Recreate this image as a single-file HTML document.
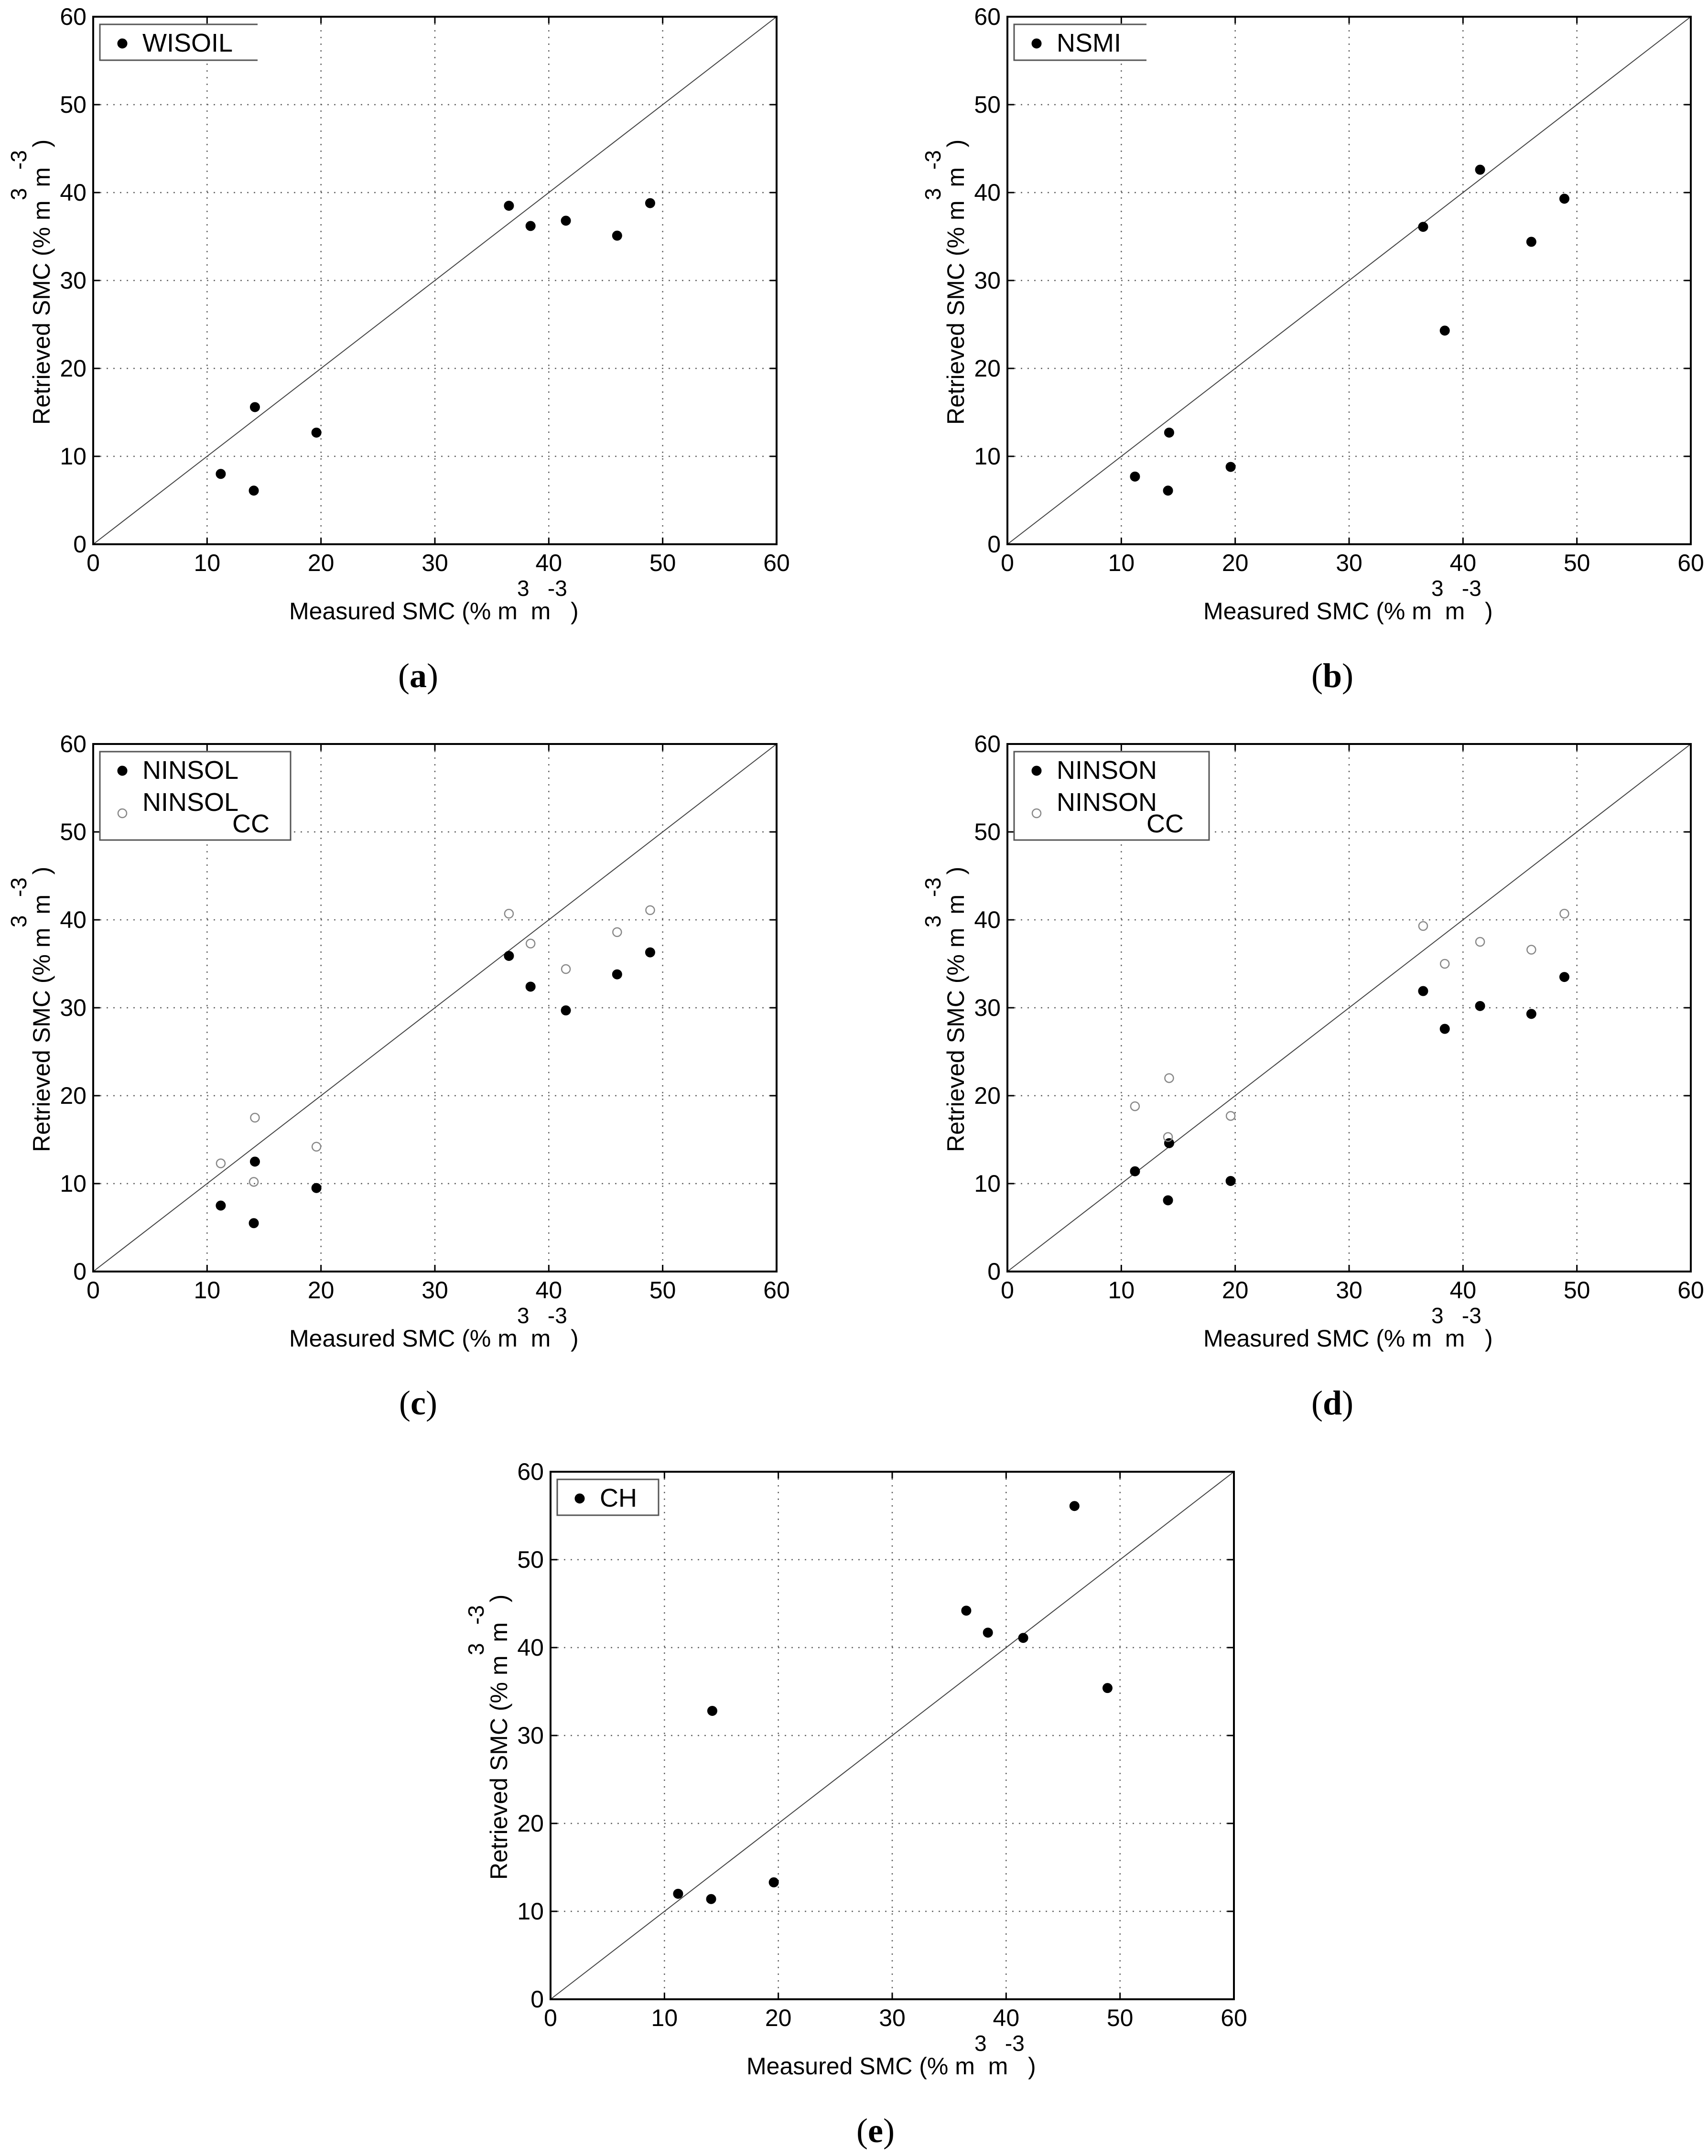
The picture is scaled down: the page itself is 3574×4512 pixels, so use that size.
<!DOCTYPE html>
<html><head><meta charset="utf-8"><style>
html,body{margin:0;padding:0;background:#fff}
svg{display:block}
text{font-family:"Liberation Sans",sans-serif;fill:#000}
</style></head><body>
<svg id="fig" width="3574" height="4512" viewBox="0 0 3574 4512" xmlns="http://www.w3.org/2000/svg"></svg>
<script>
const xMeas = [11.2, 14.1, 14.2, 19.6, 36.5, 38.4, 41.5, 46.0, 48.9];
const wisoil = [8.0, 6.1, 15.6, 12.7, 38.5, 36.2, 36.8, 35.1, 38.8];
const nsmi = [7.7, 6.1, 12.7, 8.8, 36.1, 24.3, 42.6, 34.4, 39.3];
const ninsol = [7.5, 5.5, 12.5, 9.5, 35.9, 32.4, 29.7, 33.8, 36.3];
const ninsolCC = [12.3, 10.2, 17.5, 14.2, 40.7, 37.3, 34.4, 38.6, 41.1];
const ninson = [11.4, 8.1, 14.6, 10.3, 31.9, 27.6, 30.2, 29.3, 33.5];
const ninsonCC = [18.8, 15.3, 22.0, 17.7, 39.3, 35.0, 37.5, 36.6, 40.7];
const ch = [12.0, 11.4, 32.8, 13.3, 44.2, 41.7, 41.1, 56.1, 35.4];
const ticks = [0, 10, 20, 30, 40, 50, 60];

const NS = "http://www.w3.org/2000/svg";
const svg = document.getElementById('fig');
function mk(tag, attrs, parent) {
  const e = document.createElementNS(NS, tag);
  for (const k in attrs) e.setAttribute(k, attrs[k]);
  (parent || svg).appendChild(e);
  return e;
}

const panels = [
  {id:'a', L:195, T:35, series:[{name:'WISOIL', y:wisoil, open:false}], legW:330, openRight:true, letterX:875},
  {id:'b', L:2108, T:35, series:[{name:'NSMI', y:nsmi, open:false}], legW:277, openRight:true, letterX:2788},
  {id:'c', L:195, T:1557, series:[{name:'NINSOL', y:ninsol, open:false},{name:'NINSOL', sub:'CC', y:ninsolCC, open:true}], legW:399, letterX:875},
  {id:'d', L:2108, T:1557, series:[{name:'NINSON', y:ninson, open:false},{name:'NINSON', sub:'CC', y:ninsonCC, open:true}], legW:408, letterX:2788},
  {id:'e', L:1152, T:3080, series:[{name:'CH', y:ch, open:false}], legW:212, letterX:1832}
];
const W = 1430, H = 1104;

panels.forEach(p => {
  const g = mk('g', {});
  
  
  const sx = v => p.L + v / 60 * W;
  const sy = v => p.T + H - v / 60 * H;
  const B = p.T + H, R = p.L + W;
  ticks.forEach(t => {
    if (t > 0 && t < 60) {
      const gx = mk('line', {x1:sx(t), x2:sx(t), y1:p.T, y2:B, stroke:'#666', 'stroke-width':2.5, 'stroke-dasharray':'3 11'}, g);
      
      
      const gy = mk('line', {x1:p.L, x2:R, y1:sy(t), y2:sy(t), stroke:'#666', 'stroke-width':2.5, 'stroke-dasharray':'3 11'}, g);
      
      
    }
    const tx = mk('text', {x:sx(t), y:B + 56, 'font-size':50, 'text-anchor':'middle'}, g);
    tx.textContent = t;
    
    
    const ty = mk('text', {x:p.L - 14, y:sy(t) + 17, 'font-size':50, 'text-anchor':'end'}, g);
    ty.textContent = t;
    
    
    mk('line', {x1:sx(t), x2:sx(t), y1:B, y2:B - 14, stroke:'#000', 'stroke-width':3}, g);
    mk('line', {x1:sx(t), x2:sx(t), y1:p.T, y2:p.T + 14, stroke:'#000', 'stroke-width':3}, g);
    mk('line', {x1:p.L, x2:p.L + 14, y1:sy(t), y2:sy(t), stroke:'#000', 'stroke-width':3}, g);
    mk('line', {x1:R, x2:R - 14, y1:sy(t), y2:sy(t), stroke:'#000', 'stroke-width':3}, g);
  });
  const d = mk('line', {x1:sx(0), y1:sy(0), x2:sx(60), y2:sy(60), stroke:'#444', 'stroke-width':2}, g);
  
  
  const fr = mk('rect', {x:p.L, y:p.T, width:W, height:H, fill:'none', stroke:'#000', 'stroke-width':4}, g);
  
  
  p.series.forEach(s => {
    xMeas.forEach((xv, i) => {
      const c = mk('circle', {cx:sx(xv), cy:sy(s.y[i]), r:s.open ? 9 : 10,
        fill:s.open ? 'none' : '#000', stroke:s.open ? '#888' : '#000', 'stroke-width':s.open ? 2.5 : 1}, g);
      
      
    });
  });
  const two = p.series.length > 1;
  const lg = mk('g', {}, g);
  
  
  const lx = p.L + 14, ly = p.T + 16, lh = two ? 185 : 75;
  mk('rect', {x:lx, y:ly, width:p.legW, height:lh, fill:'#fff', stroke:'none'}, lg);
  if (p.openRight) {
    mk('path', {d:'M' + (lx + p.legW) + ' ' + ly + ' H' + lx + ' V' + (ly + lh) + ' H' + (lx + p.legW), fill:'none', stroke:'#555', 'stroke-width':3}, lg);
  } else {
    mk('rect', {x:lx, y:ly, width:p.legW, height:lh, fill:'none', stroke:'#555', 'stroke-width':3}, lg);
  }
  p.series.forEach((s, k) => {
    const cy = p.T + (k === 0 ? 56 : 145);
    mk('circle', {cx:p.L + 61, cy:cy, r:s.open ? 9 : 10, fill:s.open ? 'none' : '#000', stroke:s.open ? '#888' : '#000', 'stroke-width':s.open ? 2.5 : 1}, lg);
    const t = mk('text', {x:p.L + 103, y:p.T + (k === 0 ? 73 : 140), 'font-size':54}, lg);
    t.textContent = s.name;
    
    
    if (s.sub) {
      const st = mk('text', {x:p.L + 291, y:p.T + 185, 'font-size':54}, lg);
      st.textContent = s.sub;
    }
  });
  const xl = mk('text', {x:p.L + 410, y:B + 157, 'font-size':50}, g);
  xl.textContent = 'Measured SMC (% m  m   )';
  xl.style.whiteSpace = 'pre';
  
  
  const xs = mk('text', {x:p.L + 887, y:B + 108, 'font-size':46}, g);
  xs.textContent = '3   -3';
  xs.style.whiteSpace = 'pre';
  const yl = mk('text', {x:0, y:0, 'font-size':50, transform:'translate(' + (p.L - 91) + ',' + (p.T + 854) + ') rotate(-90)'}, g);
  yl.textContent = 'Retrieved SMC (% m  m   )';
  yl.style.whiteSpace = 'pre';
  
  
  const ys = mk('text', {x:0, y:0, 'font-size':46, transform:'translate(' + (p.L - 140) + ',' + (p.T + 384) + ') rotate(-90)'}, g);
  ys.textContent = '3   -3';
  ys.style.whiteSpace = 'pre';
  const lt = mk('text', {x:p.letterX, y:B + 299, 'font-size':72, 'text-anchor':'middle'}, g);
  lt.style.fontFamily = '"Liberation Serif", serif';
  lt.innerHTML = '(<tspan font-weight="bold">' + p.id + '</tspan>)';
  
  
});
</script>
</body></html>
